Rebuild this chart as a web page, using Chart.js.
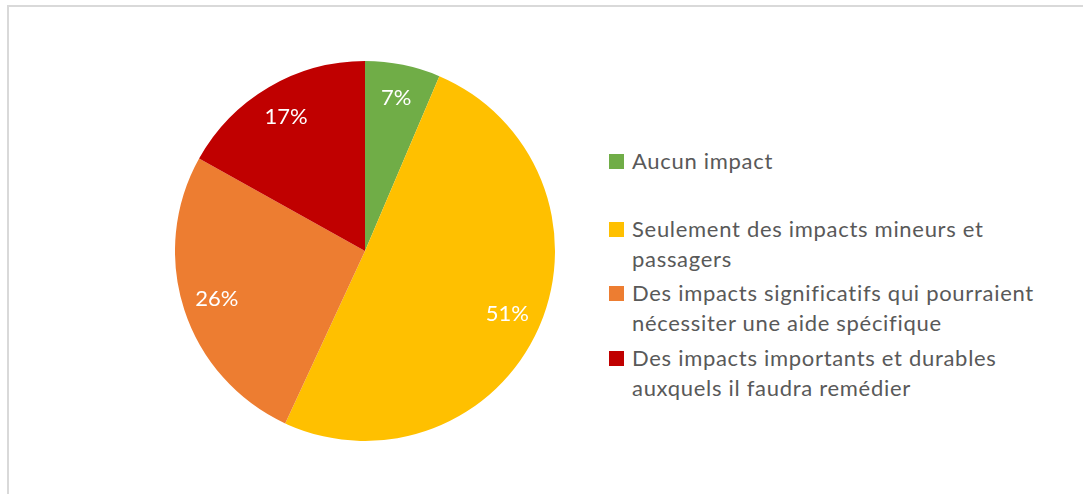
<!DOCTYPE html>
<html>
<head>
<meta charset="utf-8">
<script src="https://cdn.jsdelivr.net/npm/chart.js@4.4.0/dist/chart.umd.min.js"></script>
<style>
  html, body { margin: 0; padding: 0; background: #fff; }
  body { width: 1083px; height: 494px; position: relative; overflow: hidden; font-family: Lato, "Open Sans", sans-serif; }
  #frame { position: absolute; left: 7px; top: 5px; width: 1200px; height: 600px; border-top: 2px solid #d9d9d9; border-left: 2px solid #d9d9d9; }
  #pieBox { position: absolute; left: 175px; top: 61px; width: 380px; height: 380px; }
  #legend { position: absolute; left: 609px; top: 0; width: 470px; }
  .item { position: absolute; left: 0; width: 470px; color: #595959; font-size: 22px; line-height: 30px; letter-spacing: 0.7px; }
  .sw { position: absolute; left: 0; width: 15px; height: 15px; }
  .txt { position: absolute; left: 23px; white-space: nowrap; }
</style>
</head>
<body>
<div id="frame"></div>
<div id="pieBox"><canvas id="c"></canvas></div>
<div id="legend"></div>
<script>
const categories = [
  "Aucun impact",
  "Seulement des impacts mineurs et passagers",
  "Des impacts significatifs qui pourraient nécessiter une aide spécifique",
  "Des impacts importants et durables auxquels il faudra remédier"
];
const legendLines = [
  ["Aucun impact"],
  ["Seulement des impacts mineurs et", "passagers"],
  ["Des impacts significatifs qui pourraient", "nécessiter une aide spécifique"],
  ["Des impacts importants et durables", "auxquels il faudra remédier"]
];
const values = [6.4, 50.5, 26.2, 16.9];
const percentLabels = ["7%", "51%", "26%", "17%"];
const colors = ["#70ad47", "#ffc000", "#ed7d31", "#c00000"];

const labelPlugin = {
  id: 'pctLabels',
  afterDatasetsDraw(chart) {
    const ctx = chart.ctx;
    const meta = chart.getDatasetMeta(0);
    ctx.save();
    ctx.fillStyle = '#ffffff';
    ctx.font = '22px Lato, "Open Sans", sans-serif';
    ctx.textAlign = 'center';
    ctx.textBaseline = 'middle';
    meta.data.forEach((arc, i) => {
      const p = arc.getProps(['x', 'y', 'startAngle', 'endAngle', 'outerRadius'], true);
      const mid = (p.startAngle + p.endAngle) / 2;
      const r = p.outerRadius * 0.82;
      ctx.fillText(percentLabels[i], p.x + Math.cos(mid) * r, p.y + Math.sin(mid) * r);
    });
    ctx.restore();
  }
};

new Chart(document.getElementById('c'), {
  type: 'pie',
  data: {
    labels: categories,
    datasets: [{ data: values, backgroundColor: colors, borderWidth: 0 }]
  },
  options: {
    responsive: true,
    maintainAspectRatio: false,
    animation: false,
    layout: { padding: 0 },
    plugins: { legend: { display: false }, tooltip: { enabled: false } }
  },
  plugins: [labelPlugin]
});

// HTML legend
const legendTops = [146, 214, 278, 343];
const lg = document.getElementById('legend');
legendLines.forEach((lines, i) => {
  const it = document.createElement('div');
  it.className = 'item';
  it.style.top = legendTops[i] + 'px';
  const sw = document.createElement('div');
  sw.className = 'sw';
  sw.style.background = colors[i];
  sw.style.top = '8px';
  it.appendChild(sw);
  const t = document.createElement('div');
  t.className = 'txt';
  t.innerHTML = lines.join('<br>');
  it.appendChild(t);
  lg.appendChild(it);
});
</script>
</body>
</html>
